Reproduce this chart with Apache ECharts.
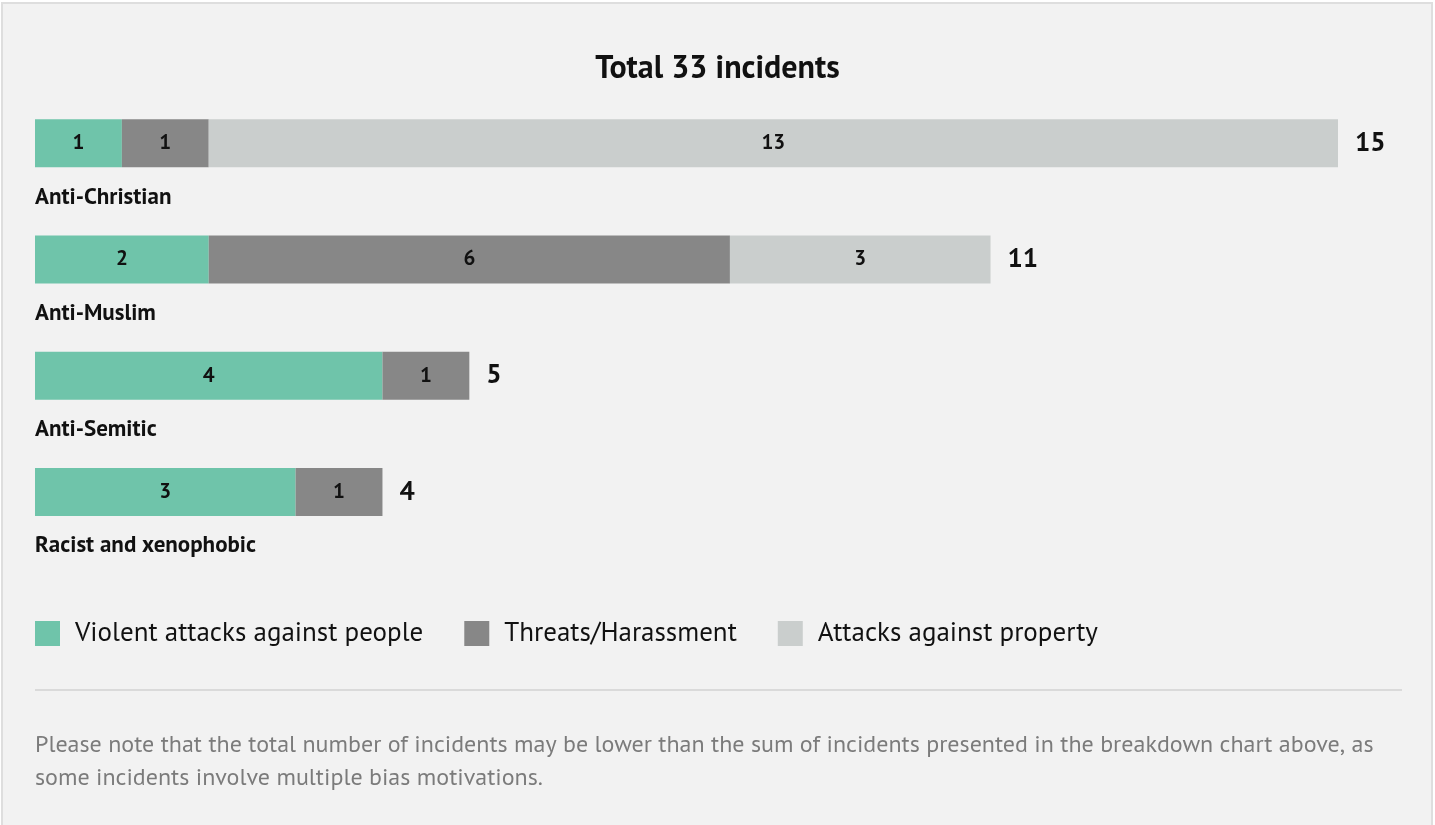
<!DOCTYPE html>
<html>
<head>
<meta charset="utf-8">
<script src="https://cdn.jsdelivr.net/npm/echarts@6/dist/echarts.min.js"></script>
<style>
html,body{margin:0;padding:0;background:#fff;overflow:hidden;}
#c{width:1435px;height:825px;}
</style>
</head>
<body>
<div id="c"></div>
<script>
const categories = ['Anti-Christian', 'Anti-Muslim', 'Anti-Semitic', 'Racist and xenophobic'];
const seriesNames = ['Violent attacks against people', 'Threats/Harassment', 'Attacks against property'];
const violent = [1, 2, 4, 3];
const threats = [1, 6, 1, 1];
const property = [13, 3, 0, 0];
const totals = [15, 11, 5, 4];
const titleText = 'Total 33 incidents';
const noteText = 'Please note that the total number of incidents may be lower than the sum of incidents presented in the breakdown chart above, as\nsome incidents involve multiple bias motivations.';

const FONT = '"PT Sans", Lato, "Open Sans", sans-serif';
const colors = ['#6fc4aa', '#878787', '#cacecd'];

const chart = echarts.init(document.getElementById('c'));

function seg(name, data, color) {
  return {
    name: name,
    type: 'bar',
    stack: 'all',
    barWidth: 48,
    data: data,
    itemStyle: { color: color },
    label: {
      show: true,
      position: 'inside',
      formatter: p => (p.value ? '{v|' + p.value + '}' : ''),
      rich: {
        v: { fontFamily: FONT, fontWeight: 'bold', fontSize: 21, color: '#111' }
      }
    },
    emphasis: { disabled: true },
    silent: true
  };
}

chart.setOption({
  backgroundColor: '#ffffff',
  animation: false,
  textStyle: { fontFamily: FONT },
  title: {
    text: titleText,
    left: 'center',
    top: 48,
    textStyle: { fontFamily: FONT, fontWeight: 'bold', fontSize: 32, color: '#111' }
  },
  legend: {
    data: seriesNames,
    left: 35,
    top: 620,
    padding: 0,
    icon: 'rect',
    itemWidth: 25,
    itemHeight: 25,
    itemGap: 41,
    selectedMode: false,
    textStyle: { fontFamily: FONT, fontSize: 27, color: '#111', padding: [0, 0, 0, 10] }
  },
  grid: { left: 35, right: 97, top: 85, bottom: 275, containLabel: false },
  xAxis: { type: 'value', min: 0, max: 15, show: false },
  yAxis: {
    type: 'category',
    inverse: true,
    data: categories,
    axisLine: { show: false },
    axisTick: { show: false },
    axisLabel: {
      inside: true,
      interval: 0,
      margin: 0,
      align: 'left',
      verticalAlign: 'top',
      padding: [42, 0, 0, 0],
      lineHeight: 24,
      fontFamily: FONT,
      fontWeight: 'bold',
      fontSize: 23,
      color: '#111'
    }
  },
  series: [
    seg(seriesNames[0], violent, colors[0]),
    seg(seriesNames[1], threats, colors[1]),
    seg(seriesNames[2], property, colors[2]),
    {
      name: 'Total',
      type: 'bar',
      barWidth: 48,
      barGap: '-100%',
      data: totals,
      itemStyle: { color: 'rgba(0,0,0,0)' },
      z: 1,
      silent: true,
      label: {
        show: true,
        position: 'right',
        distance: 17,
        fontFamily: FONT,
        fontWeight: 'bold',
        fontSize: 27,
        color: '#111'
      }
    }
  ],
  graphic: [
    {
      type: 'rect',
      z: -10,
      silent: true,
      shape: { x: 2, y: 3, width: 1430, height: 860 },
      style: { fill: '#f2f2f2', stroke: '#dedede', lineWidth: 2 }
    },
    {
      type: 'line',
      silent: true,
      shape: { x1: 35, y1: 690, x2: 1402, y2: 690 },
      style: { stroke: '#dadada', lineWidth: 2 }
    },
    {
      type: 'text',
      silent: true,
      x: 35,
      y: 729,
      style: {
        text: noteText,
        font: '24px ' + FONT,
        fill: '#7b7b7b',
        lineHeight: 33,
        verticalAlign: 'top'
      }
    }
  ]
});
</script>
</body>
</html>
